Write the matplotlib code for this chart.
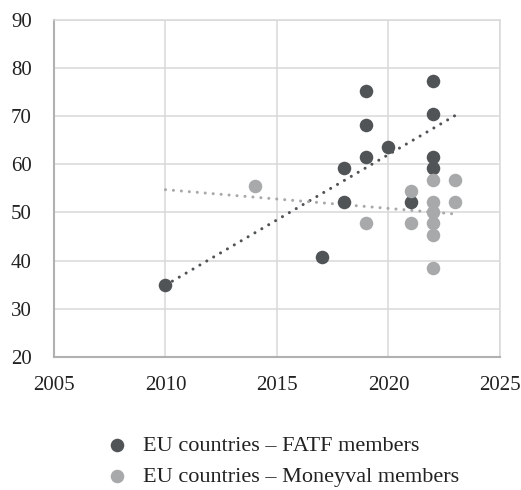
import numpy as np
import matplotlib.pyplot as plt

plt.rcParams['font.family'] = ['Liberation Serif', 'DejaVu Serif']

# EU countries - FATF members (year of evaluation, score)
fatf_year = [2010, 2017, 2018, 2018, 2019, 2019, 2019, 2020, 2021, 2022, 2022, 2022, 2022]
fatf_score = [35.0, 40.7, 59.2, 52.2, 75.1, 68.2, 61.5, 63.6, 52.2, 77.3, 70.5, 61.5, 59.1]

# EU countries - Moneyval members
mv_year = [2014, 2019, 2021, 2021, 2022, 2022, 2022, 2022, 2022, 2022, 2023, 2023]
mv_score = [55.5, 47.7, 54.5, 47.7, 56.7, 52.2, 50.0, 47.7, 45.4, 38.5, 56.7, 52.2]

labels = ['EU countries \u2013 FATF members', 'EU countries \u2013 Moneyval members']
dark = '#505456'
light = '#a7a9aa'

fig = plt.figure(figsize=(5.21, 4.90), dpi=100)
ax = fig.add_axes([0.1036, 0.2714, 0.8561, 0.6888])

# linear trend lines
trend_x = np.array([2010, 2023])
k1, b1 = np.polyfit(fatf_year, fatf_score, 1)
k2, b2 = np.polyfit(mv_year, mv_score, 1)
dots = (0, (0.01, 2.6))
ax.plot(trend_x, k1 * trend_x + b1, color=dark, lw=2.2, ls=dots,
        dash_capstyle='round', zorder=3)
ax.plot(trend_x, k2 * trend_x + b2, color=light, lw=2.2, ls=dots,
        dash_capstyle='round', zorder=3)

ax.scatter(fatf_year, fatf_score, s=95, color=dark, lw=0, zorder=4, label=labels[0])
ax.scatter(mv_year, mv_score, s=95, color=light, lw=0, zorder=5, label=labels[1])

ax.set_xlim(2005, 2025)
ax.set_ylim(20, 90)
ax.set_xticks(range(2005, 2026, 5))
ax.set_yticks(range(20, 91, 10))
ax.grid(color='#d9d9d9', lw=1.1)
ax.set_axisbelow(True)
for s in ['top', 'right']:
    ax.spines[s].set_color('#d9d9d9')
    ax.spines[s].set_linewidth(1.1)
for s in ['left', 'bottom']:
    ax.spines[s].set_color('#b0b0b0')
    ax.spines[s].set_linewidth(1.5)
ax.tick_params(length=0, labelsize=15, colors='#222222')
ax.tick_params(axis='y', pad=16)
ax.tick_params(axis='x', pad=14)

fig.legend(loc='upper left', bbox_to_anchor=(0.178, 0.134), frameon=False,
           fontsize=16, handletextpad=0.55, labelspacing=0.45, borderpad=0,
           handlelength=1.2, markerscale=1.0, labelcolor='#222222')

fig.savefig('out.png', dpi=100)
